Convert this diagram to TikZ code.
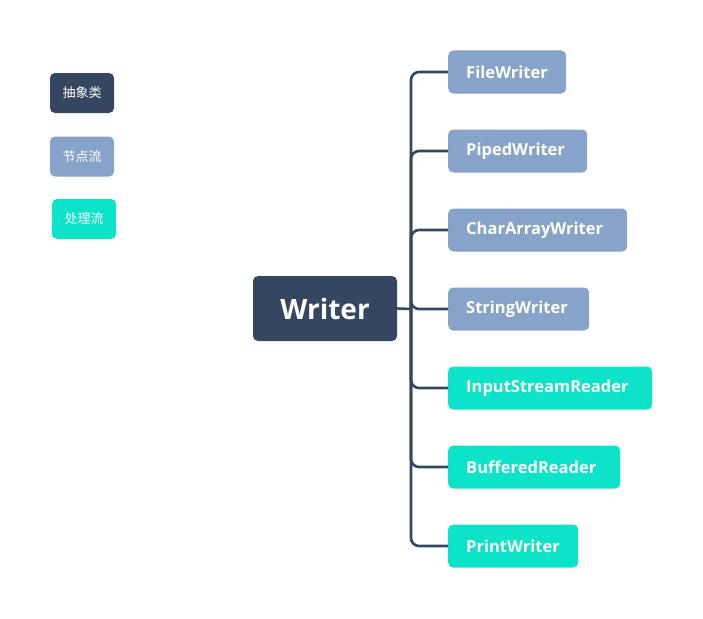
\documentclass[tikz,border=0pt]{standalone}
\usepackage{fontspec}
\setmainfont{Open Sans}
\newfontfamily\cjk{Noto Sans CJK SC}
\definecolor{darkc}{HTML}{354660}
\definecolor{bluec}{HTML}{87A3C9}
\definecolor{cyanc}{HTML}{0DE3C9}
\begin{document}
\begin{tikzpicture}[x=1pt,y=-1pt,
  box/.style={rounded corners=5pt,inner sep=0pt,text=white},
  legend/.style={box,minimum width=64pt,minimum height=40pt,font=\cjk\fontsize{13}{15}\selectfont},
  child/.style={box,anchor=west,minimum height=43pt,inner xsep=18pt,align=left,font=\bfseries\fontsize{16.5}{18}\selectfont},
  link/.style={draw=darkc,line width=2.6pt,rounded corners=8pt}]
\useasboundingbox (0,0) rectangle (703,618);
\node[legend,fill=darkc] (l1) at (82,93) {抽象类};
\node[legend,fill=bluec] (l2) at (82,156.5) {节点流};
\node[legend,fill=cyanc] (l3) at (84,219) {处理流};
\node[box,fill=darkc,minimum width=144pt,minimum height=65pt,font=\bfseries\fontsize{28}{32}\selectfont] (w) at (325,308.5) {Writer};
\node[child,fill=bluec,text width=82pt] (c1) at (448,72) {FileWriter};
\node[child,fill=bluec,text width=103pt] (c2) at (448,151) {PipedWriter};
\node[child,fill=bluec,text width=143pt] (c3) at (448,230) {CharArrayWriter};
\node[child,fill=bluec,text width=105pt] (c4) at (448,309) {StringWriter};
\node[child,fill=cyanc,text width=168pt] (c5) at (448,388) {InputStreamReader};
\node[child,fill=cyanc,text width=136pt] (c6) at (448,467) {BufferedReader};
\node[child,fill=cyanc,text width=94pt] (c7) at (448,546) {PrintWriter};
\coordinate (t) at (411,309);
\draw[link] (w.east) -- (t);
\foreach \c in {c1,c2,c3,c4,c5,c6,c7}{
  \draw[link] (t) |- (\c.west);
}
\end{tikzpicture}
\end{document}
